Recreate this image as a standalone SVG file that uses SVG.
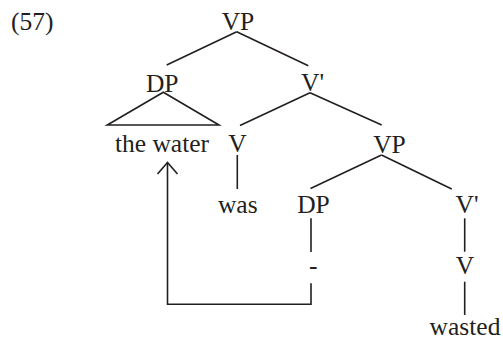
<svg xmlns="http://www.w3.org/2000/svg" width="503" height="338" viewBox="0 0 503 338">
<style>
  text { font-family: "Liberation Serif", "Times New Roman", serif; font-size: 25.5px; fill: #231f20; }
  .m { text-anchor: middle; }
  .e { fill: none; stroke: #231f20; stroke-width: 1.6; stroke-linecap: butt; stroke-linejoin: miter; }
</style>
<rect width="503" height="338" fill="#ffffff"/>
<text id="label57" x="11" y="30">(57)</text>
<g id="n-vp1"><text class="m" x="238" y="30">VP</text></g>
<g id="n-dp1"><text class="m" x="162.2" y="91.5">DP</text></g>
<g id="n-vbar1"><text x="301" y="91">V'</text></g>
<g id="n-thewater"><text class="m" x="162" y="151.6">the water</text></g>
<g id="n-v1"><text class="m" x="237.5" y="151.5">V</text></g>
<g id="n-vp2"><text class="m" x="389.5" y="153">VP</text></g>
<g id="n-was"><text class="m" x="237.8" y="213">was</text></g>
<g id="n-dp2"><text class="m" x="313.5" y="213">DP</text></g>
<g id="n-vbar2"><text x="455.5" y="213">V'</text></g>
<g id="n-trace"><text class="m" x="313.3" y="274">-</text></g>
<g id="n-v2"><text class="m" x="465" y="274">V</text></g>
<g id="n-wasted"><text class="m" x="465" y="335">wasted</text></g>
<g id="connectors" class="e">
  <line class="e" x1="236.7" y1="31.7" x2="166.7" y2="65"/>
  <line class="e" x1="236.7" y1="31.7" x2="308.3" y2="65.7"/>
  <polygon class="e" points="163.3,92.3 107.3,125 219,125"/>
  <line class="e" x1="310" y1="92.7" x2="240" y2="125.5"/>
  <line class="e" x1="310" y1="92.7" x2="381.7" y2="125"/>
  <line class="e" x1="237.3" y1="155" x2="237.3" y2="189"/>
  <line class="e" x1="381.5" y1="155" x2="310.5" y2="188.5"/>
  <line class="e" x1="381.5" y1="155" x2="451.7" y2="189"/>
  <line class="e" x1="311" y1="218.3" x2="311" y2="252"/>
  <line class="e" x1="464.7" y1="218.3" x2="464.7" y2="251.7"/>
  <line class="e" x1="464.7" y1="281.7" x2="464.7" y2="315"/>
  <path class="e" d="M311,283.3 V304.3 H167.5 V162.8"/>
  <path class="e" d="M157.5,174 L167.5,162.5 L177.5,174"/>
</g>
</svg>
